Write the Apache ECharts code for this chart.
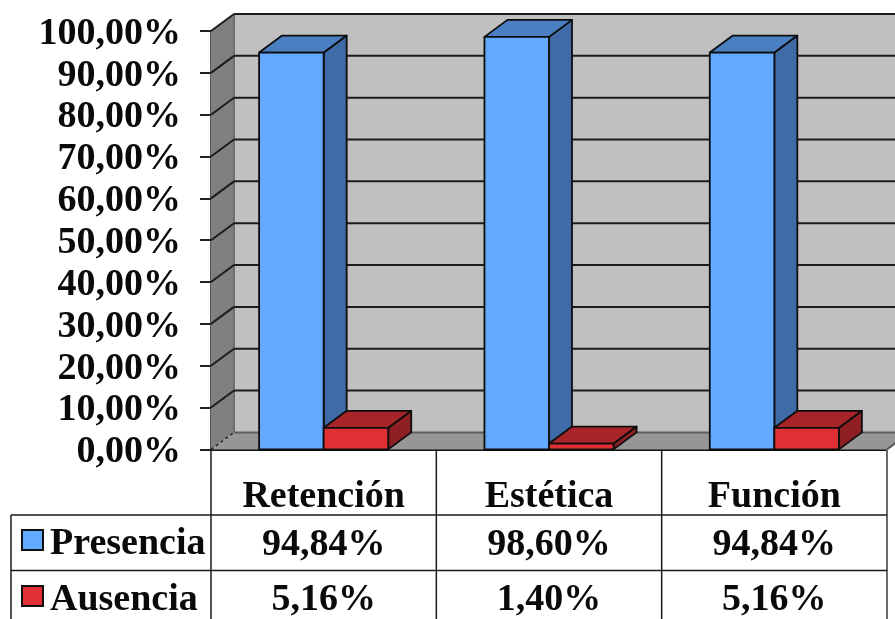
<!DOCTYPE html>
<html>
<head>
<meta charset="utf-8">
<title>Presencia y ausencia</title>
<style>html,body{margin:0;padding:0;background:#fff}#c{width:895px;height:619px}</style>
<script src="https://cdn.jsdelivr.net/npm/echarts@6/dist/echarts.min.js"></script>
</head>
<body>
<div id="c"></div>
<script>
// Values of the chart
const categorias = ['Retención', 'Estética', 'Función'];
const presencia = [94.84, 98.60, 94.84];
const ausencia = [5.16, 1.40, 5.16];
const marcasEje = [0, 10, 20, 30, 40, 50, 60, 70, 80, 90, 100];

// Oblique projection used for the walls and the boxes
const DX = 23, DY = -17;
const FONT = 'bold 38px "Liberation Serif"';
const fmt = v => v.toFixed(2).replace('.', ',') + '%';
const BAR_SHARE = 0.2865;
const ROW_Y = [515, 570.5];   // table row rules
const ROW_TEXT_Y = [545, 600];
const TABLE_LEFT = 11;

function poly(points, fill, stroke, lineWidth) {
  return { type: 'polygon', shape: { points }, style: { fill, stroke, lineWidth, lineJoin: 'round' } };
}
function line(x1, y1, x2, y2, stroke, lineWidth, lineDash) {
  return { type: 'line', shape: { x1, y1, x2, y2 }, style: { stroke, lineWidth, lineDash } };
}

// Back wall, left wall and floor
function renderWalls(params, api) {
  const cs = params.coordSys;
  const top = api.coord([0, 100])[1], base = api.coord([0, 0])[1];
  const l = cs.x, r = cs.x + cs.width;
  return { type: 'group', children: [
    poly([[l + DX, top + DY], [r + DX, top + DY], [r + DX, base + DY], [l + DX, base + DY]], '#c0c0c0', null, 0),
    poly([[l, top], [l + DX, top + DY], [l + DX, base + DY], [l, base]], '#808080', null, 0),
    poly([[l, base], [l + DX, base + DY], [r + DX, base + DY], [r, base]], '#969696', null, 0),
    line(l + DX, top + DY, l + DX, base + DY, '#6e6e6e', 2),
    line(l + DX, base + DY, r + DX, base + DY, '#5c5c5c', 2),
    line(r, base, r + DX, base + DY, '#5c5c5c', 2)
  ] };
}

// Gridline running across the left wall and the back wall
function renderGrid(params, api) {
  const cs = params.coordSys;
  const v = api.value(1), y = api.coord([0, v])[1];
  const l = cs.x, r = cs.x + cs.width;
  if (v === 0) {
    return line(l, y, l + DX, y + DY, '#222', 1.5, [3, 3]);
  }
  return { type: 'group', children: [
    line(l, y, l + DX, y + DY, '#1c1c1c', 2),
    line(l + DX, y + DY, r + DX, y + DY, '#1c1c1c', 2)
  ] };
}

// Box drawn with front, top and side faces
function boxRenderer(side, front, topFace, sideFace) {
  return function (params, api) {
    const i = api.value(0), v = api.value(1);
    const c = api.coord([i, v]), b = api.coord([i, 0]);
    const w = api.size([1, 0])[0] * BAR_SHARE;
    const x0 = side < 0 ? c[0] - w : c[0], x1 = x0 + w;
    const yt = c[1], yb = b[1];
    const edge = '#0d0d0d';
    return { type: 'group', children: [
      poly([[x1, yt], [x1 + DX, yt + DY], [x1 + DX, yb + DY], [x1, yb]], sideFace, edge, 1.8),
      poly([[x0, yt], [x0 + DX, yt + DY], [x1 + DX, yt + DY], [x1, yt]], topFace, edge, 1.8),
      poly([[x0, yt], [x1, yt], [x1, yb], [x0, yb]], front, edge, 1.8)
    ] };
  };
}

// Value cells of the data table
function renderCell(params, api) {
  const x = api.coord([api.value(0), 0])[0];
  const row = api.value(1);
  return { type: 'text', style: {
    text: fmt(api.value(2)), x, y: ROW_TEXT_Y[row], font: FONT, fill: '#0a0a0a',
    align: 'center', verticalAlign: 'middle'
  } };
}

const celdas = [];
categorias.forEach((_, i) => {
  celdas.push([i, 0, presencia[i]]);
  celdas.push([i, 1, ausencia[i]]);
});

const chart = echarts.init(document.getElementById('c'), null, { renderer: 'canvas' });
const gridLeft = 211, gridRight = 887, gridTop = 31, gridBottom = 449.4;
const band = (gridRight - gridLeft) / categorias.length;

// Table rules below the plot
const reglas = [
  ...[0, 1, 2].map(k => line(gridLeft + band * k, gridBottom, gridLeft + band * k, 619, '#1a1a1a', 1.5)),
  line(gridRight, gridBottom, gridRight, 619, '#6a6a6a', 2),
  line(TABLE_LEFT, ROW_Y[0], gridRight, ROW_Y[0], '#1a1a1a', 1.5),
  line(TABLE_LEFT, ROW_Y[1], gridRight, ROW_Y[1], '#1a1a1a', 1.5),
  line(TABLE_LEFT, ROW_Y[0], TABLE_LEFT, 619, '#1a1a1a', 1.5)
];

chart.setOption({
  animation: false,
  backgroundColor: '#ffffff',
  grid: { left: gridLeft, top: gridTop, width: gridRight - gridLeft, height: gridBottom - gridTop, containLabel: false },
  xAxis: {
    type: 'category', data: categorias,
    axisLine: { show: true, lineStyle: { color: '#111', width: 2 } },
    axisTick: { show: false },
    splitLine: { show: false },
    axisLabel: { show: true, interval: 0, color: '#0a0a0a', fontFamily: 'Liberation Serif', fontWeight: 'bold', fontSize: 38, margin: 29 }
  },
  yAxis: {
    type: 'value', min: 0, max: 100, interval: 10,
    axisLine: { show: true, lineStyle: { color: '#555', width: 2 } },
    axisTick: { show: true, length: 11, lineStyle: { color: '#222', width: 2 } },
    splitLine: { show: false },
    axisLabel: { color: '#0a0a0a', fontFamily: 'Liberation Serif', fontWeight: 'bold', fontSize: 38, margin: 30, verticalAlign: 'top', lineHeight: 6, formatter: v => fmt(v) }
  },
  legend: {
    left: 21, top: 525, height: 120, orient: 'vertical', padding: 0, itemWidth: 21, itemHeight: 20, itemGap: 18,
    icon: 'rect', data: ['Presencia', 'Ausencia'], selectedMode: false,
    formatter: '{t|{name}}',
    textStyle: { rich: { t: { color: '#0a0a0a', fontFamily: 'Liberation Serif', fontWeight: 'bold', fontSize: 38, lineHeight: 46, verticalAlign: 'bottom', padding: [0, 0, 0, 2] } } },
    itemStyle: { borderColor: '#111', borderWidth: 2 }
  },
  graphic: { elements: reglas.map(r => Object.assign({ z: 5, silent: true }, r)) },
  series: [
    { type: 'custom', name: 'paredes', silent: true, z: 1, renderItem: renderWalls, data: [[0, 0]], encode: { x: 0, y: 1 } },
    { type: 'custom', name: 'rejilla', silent: true, z: 2, renderItem: renderGrid, data: marcasEje.map(t => [0, t]), encode: { x: 0, y: 1 } },
    { type: 'custom', name: 'Presencia', silent: true, z: 3, itemStyle: { color: '#63a9ff' },
      renderItem: boxRenderer(-1, '#63a9ff', '#4a80c2', '#3f6ca6'),
      data: presencia.map((v, i) => [i, v]), encode: { x: 0, y: 1 } },
    { type: 'custom', name: 'Ausencia', silent: true, z: 4, itemStyle: { color: '#e03034' },
      renderItem: boxRenderer(1, '#e03034', '#a82428', '#8e2024'),
      data: ausencia.map((v, i) => [i, v]), encode: { x: 0, y: 1 } },
    { type: 'custom', name: 'tabla', silent: true, z: 6, renderItem: renderCell, data: celdas, encode: { x: 0 } }
  ]
});
</script>
</body>
</html>
